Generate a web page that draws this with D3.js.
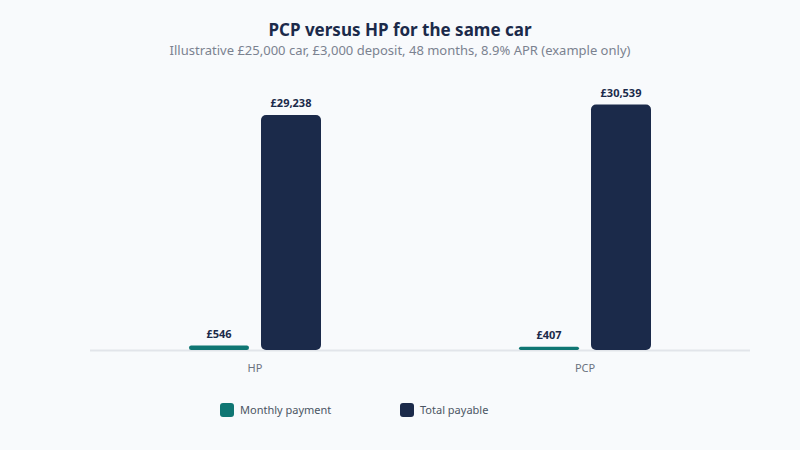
<!DOCTYPE html>
<html>
<head>
<meta charset="utf-8">
<script src="https://d3js.org/d3.v7.min.js"></script>
<style>
  body { margin: 0; background: #f8fafc; }
  text { font-family: "Noto Sans", "Open Sans", sans-serif; }
</style>
</head>
<body>
<div id="chart"></div>
<script>
// data
var categories = ["HP", "PCP"];
var seriesNames = ["Monthly payment", "Total payable"];
var monthlyPayment = [546, 407];
var totalPayable = [29238, 30539];
var colors = ["#0f7673", "#1b2a4a"];

var width = 800, height = 450;
var baseY = 350, topY = 80;

var svg = d3.select("#chart").append("svg")
    .attr("width", width)
    .attr("height", height);

svg.append("rect").attr("width", width).attr("height", height).attr("fill", "#f8fafc");

// titles
svg.append("text")
    .attr("x", 400).attr("y", 36)
    .attr("text-anchor", "middle")
    .attr("font-size", 17).attr("font-weight", 700)
    .attr("fill", "#1b2a4a")
    .text("PCP versus HP for the same car");
svg.append("text")
    .attr("x", 400).attr("y", 55)
    .attr("text-anchor", "middle")
    .attr("font-size", 13)
    .attr("fill", "#7b8290")
    .text("Illustrative £25,000 car, £3,000 deposit, 48 months, 8.9% APR (example only)");

var rows = categories.map(function (c, i) {
    return { cat: c, values: [monthlyPayment[i], totalPayable[i]] };
});

// scales
var x0 = d3.scaleBand().domain(categories).range([90, 750])
    .paddingInner(0.6).paddingOuter(0.3);
var x1 = d3.scaleBand().domain(seriesNames).range([0, x0.bandwidth()])
    .paddingInner(1 / 6);
var y = d3.scaleLinear()
    .domain([0, d3.max(totalPayable) * 1.1])
    .range([baseY, topY]);

// baseline
svg.append("line")
    .attr("x1", 90).attr("x2", 750)
    .attr("y1", baseY + 0.5).attr("y2", baseY + 0.5)
    .attr("stroke", "#e2e5ea").attr("stroke-width", 2);

var groups = svg.append("g").selectAll("g")
    .data(rows).enter().append("g")
    .attr("transform", function (d) { return "translate(" + x0(d.cat) + ",0)"; });

var cells = groups.selectAll("g.cell")
    .data(function (d) { return d.values.map(function (v, i) { return { name: seriesNames[i], v: v, i: i }; }); })
    .enter().append("g").attr("class", "cell");

cells.append("rect")
    .attr("x", function (d) { return x1(d.name); })
    .attr("y", function (d) { return y(d.v); })
    .attr("width", x1.bandwidth())
    .attr("height", function (d) { return baseY - y(d.v); })
    .attr("rx", function (d) { return Math.min(5, (baseY - y(d.v)) / 2); })
    .attr("fill", function (d) { return colors[d.i]; });

cells.append("text")
    .attr("x", function (d) { return x1(d.name) + x1.bandwidth() / 2; })
    .attr("y", function (d) { return y(d.v) - 8; })
    .attr("text-anchor", "middle")
    .attr("font-size", 11).attr("font-weight", 700)
    .attr("fill", "#1b2a4a")
    .text(function (d) { return "£" + d3.format(",")(d.v); });

// category axis
var xAxis = d3.axisBottom(x0.copy().paddingInner(0).paddingOuter(0)).tickSize(0).tickPadding(14);
var ax = svg.append("g").attr("transform", "translate(0," + baseY + ")").call(xAxis);
ax.select(".domain").remove();
ax.selectAll("text").attr("font-size", 11).attr("fill", "#6b7280")
    .attr("font-family", "Noto Sans, Open Sans, sans-serif");

// legend
var legendX = [220, 400];
var legend = svg.append("g").selectAll("g")
    .data(seriesNames).enter().append("g")
    .attr("transform", function (d, i) { return "translate(" + legendX[i] + ",403)"; });
legend.append("rect")
    .attr("width", 14).attr("height", 14).attr("rx", 3)
    .attr("fill", function (d, i) { return colors[i]; });
legend.append("text")
    .attr("x", 20).attr("y", 11)
    .attr("font-size", 11).attr("fill", "#4b5563")
    .text(function (d) { return d; });
</script>
</body>
</html>
